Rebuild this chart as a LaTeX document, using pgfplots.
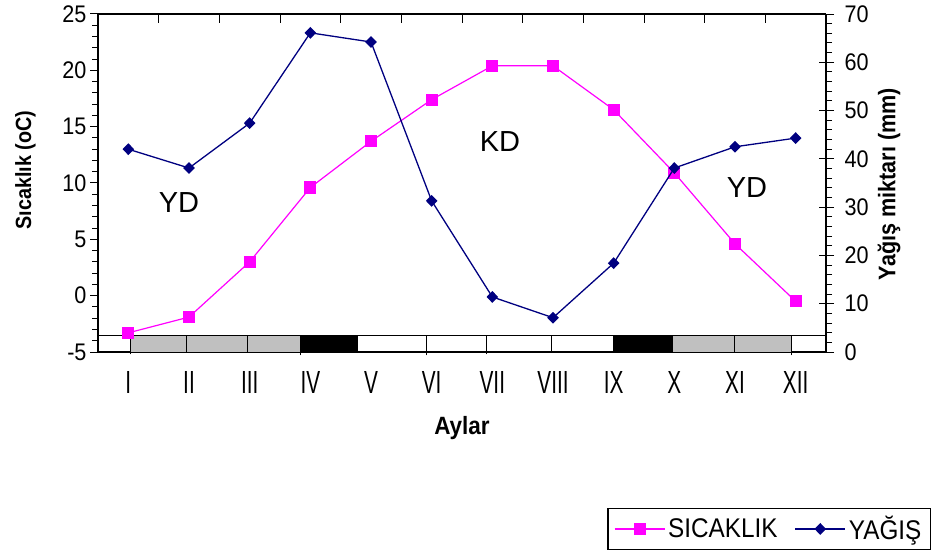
\documentclass[border=0pt]{standalone}
\usepackage{pgfplots}
\pgfplotsset{compat=1.18}
\usepackage{fontspec}
\setmainfont{Liberation Sans}[FakeStretch=0.9]
\newfontfamily\romfont{Liberation Sans}[FakeStretch=0.65]
\newfontfamily\plainfont{Liberation Sans}
\definecolor{mag}{RGB}{255,0,255}
\definecolor{nav}{RGB}{0,0,128}
\definecolor{stripgray}{RGB}{192,192,192}
\begin{document}
\begin{tikzpicture}
\path[use as bounding box] (0,0) rectangle (933pt,554pt);
% ---------- left axis: temperature ----------
\begin{axis}[
  at={(98pt,202pt)}, anchor=south west,
  scale only axis, width=728pt, height=338pt,
  xmin=0.5, xmax=12.5, ymin=-5, ymax=25,
  axis x line*=bottom, axis y line*=left,
  axis line style={line width=1.2pt},
  clip=false,
  xtick={1,...,12},
  xticklabels={I,II,III,IV,V,VI,VII,VIII,IX,X,XI,XII},
  x tick style={draw=none},
  x tick label style={font=\romfont\fontsize{32}{32}\selectfont, yshift=-8pt},
  ytick={-5,0,5,10,15,20,25},
  minor y tick num=4,
  tick align=outside,
  major tick length=8pt, minor tick length=6pt,
  y tick style={line width=1pt, black},
  y tick label style={font=\fontsize{24}{24}\selectfont},
  /pgf/number format/assume math mode=true,
  xlabel={Aylar},
  xlabel style={at={(rel axis cs:0.5,-0.2249)}, anchor=center, font=\bfseries\fontsize{25}{25}\selectfont},
  ylabel={Sıcaklık (oC)},
  ylabel style={at={(rel axis cs:-0.0996,0.5385)}, anchor=center, font=\bfseries\fontsize{22}{22}\selectfont},
]
% season strip at the bottom
\addplot[fill=stripgray, draw=black, line width=0.8pt] coordinates {(1.04,-5) (3.83,-5) (3.83,-3.5) (1.04,-3.5)} -- cycle;
\addplot[fill=black, draw=black, line width=0.8pt] coordinates {(3.83,-5) (4.77,-5) (4.77,-3.5) (3.83,-3.5)} -- cycle;
\addplot[fill=black, draw=black, line width=0.8pt] coordinates {(8.99,-5) (9.96,-5) (9.96,-3.5) (8.99,-3.5)} -- cycle;
\addplot[fill=stripgray, draw=black, line width=0.8pt] coordinates {(9.96,-5) (11.93,-5) (11.93,-3.5) (9.96,-3.5)} -- cycle;
\addplot[black, line width=1pt] coordinates {(0.5,-3.5) (12.5,-3.5)};
\addplot[black, line width=1pt] coordinates {(1.04,-5.2) (1.04,-3.5)};
\addplot[black, line width=1pt] coordinates {(1.96,-5.0) (1.96,-3.5)};
\addplot[black, line width=1pt] coordinates {(2.97,-5.0) (2.97,-3.5)};
\addplot[black, line width=1pt] coordinates {(3.83,-5.3) (3.83,-3.5)};
\addplot[black, line width=1pt] coordinates {(5.91,-5.3) (5.91,-3.5)};
\addplot[black, line width=1pt] coordinates {(6.90,-5.2) (6.90,-3.5)};
\addplot[black, line width=1pt] coordinates {(7.97,-5.0) (7.97,-3.5)};
\addplot[black, line width=1pt] coordinates {(10.99,-5.0) (10.99,-3.5)};
\addplot[black, line width=1pt] coordinates {(11.93,-5.3) (11.93,-3.5)};
% temperature
\addplot[mag, line width=1.2pt, mark=square*, mark size=5.5pt, mark options={solid, fill=mag, draw=mag}]
  coordinates {(1,-3.3) (2,-1.9) (3,3.0) (4,9.6) (5,13.7) (6,17.4) (7,20.4) (8,20.4) (9,16.5) (10,10.9) (11,4.6) (12,-0.5)};
\node[font=\plainfont\fontsize{29}{29}\selectfont] at (axis cs:1.835,8.3) {YD};
\node[font=\plainfont\fontsize{29}{29}\selectfont] at (axis cs:7.126,13.7) {KD};
\node[font=\plainfont\fontsize{29}{29}\selectfont] at (axis cs:11.197,9.56) {YD};
\end{axis}
% ---------- top ticks ----------
\begin{axis}[
  at={(98pt,202pt)}, anchor=south west,
  scale only axis, width=728pt, height=338pt,
  xmin=0.5, xmax=12.5, ymin=0, ymax=1,
  axis x line*=top, axis y line=none,
  axis line style={line width=1.2pt},
  xtick={1.5,2.5,...,11.5}, xticklabels={},
  tick align=inside, major tick length=9pt,
  x tick style={line width=1pt, black},
]
\end{axis}
% ---------- right axis: precipitation ----------
\begin{axis}[
  at={(98pt,202pt)}, anchor=south west,
  scale only axis, width=728pt, height=338pt,
  xmin=0.5, xmax=12.5, ymin=0, ymax=70,
  axis y line*=right, axis x line=none,
  axis line style={line width=1.2pt},
  ytick={0,10,...,70},
  minor y tick num=4,
  tick align=outside,
  major tick length=15pt, minor tick length=6pt,
  every major tick/.append style={xshift=-7pt},
  y tick style={line width=1pt, black},
  y tick label style={font=\fontsize{24}{24}\selectfont},
  /pgf/number format/assume math mode=true,
  ylabel={Yağış miktarı (mm)},
  ylabel style={at={(rel axis cs:1.0865,0.497)}, anchor=center, font=\bfseries\fontsize{24}{24}\selectfont},
  legend columns=2,
  legend style={at={(rel axis cs:1.1442,-0.5858)}, anchor=south east,
    draw=black, line width=1.2pt, font=\fontsize{27}{27}\selectfont,
    inner xsep=6pt, inner ysep=5pt,
    nodes={inner sep=3pt, line width=1pt},
    /tikz/every even column/.append style={column sep=14pt}},
  legend image code/.code={\draw[mark repeat=2, mark phase=2] plot coordinates {(0pt,0pt) (25pt,0pt) (50pt,0pt)};},
]
\addlegendimage{mag, line width=1.2pt, mark=square*, mark size=5.5pt, mark options={solid, fill=mag, draw=mag}}
\addlegendentry{SICAKLIK}
\addplot[nav, line width=1.3pt, mark=diamond*, mark size=5pt, mark options={solid, fill=nav, draw=nav, xscale=1.3}]
  coordinates {(1,42.0) (2,38.1) (3,47.4) (4,66.1) (5,64.2) (6,31.3) (7,11.4) (8,7.1) (9,18.4) (10,38.1) (11,42.5) (12,44.3)};
\addlegendentry{YAĞIŞ}
\end{axis}
\end{tikzpicture}
\end{document}
